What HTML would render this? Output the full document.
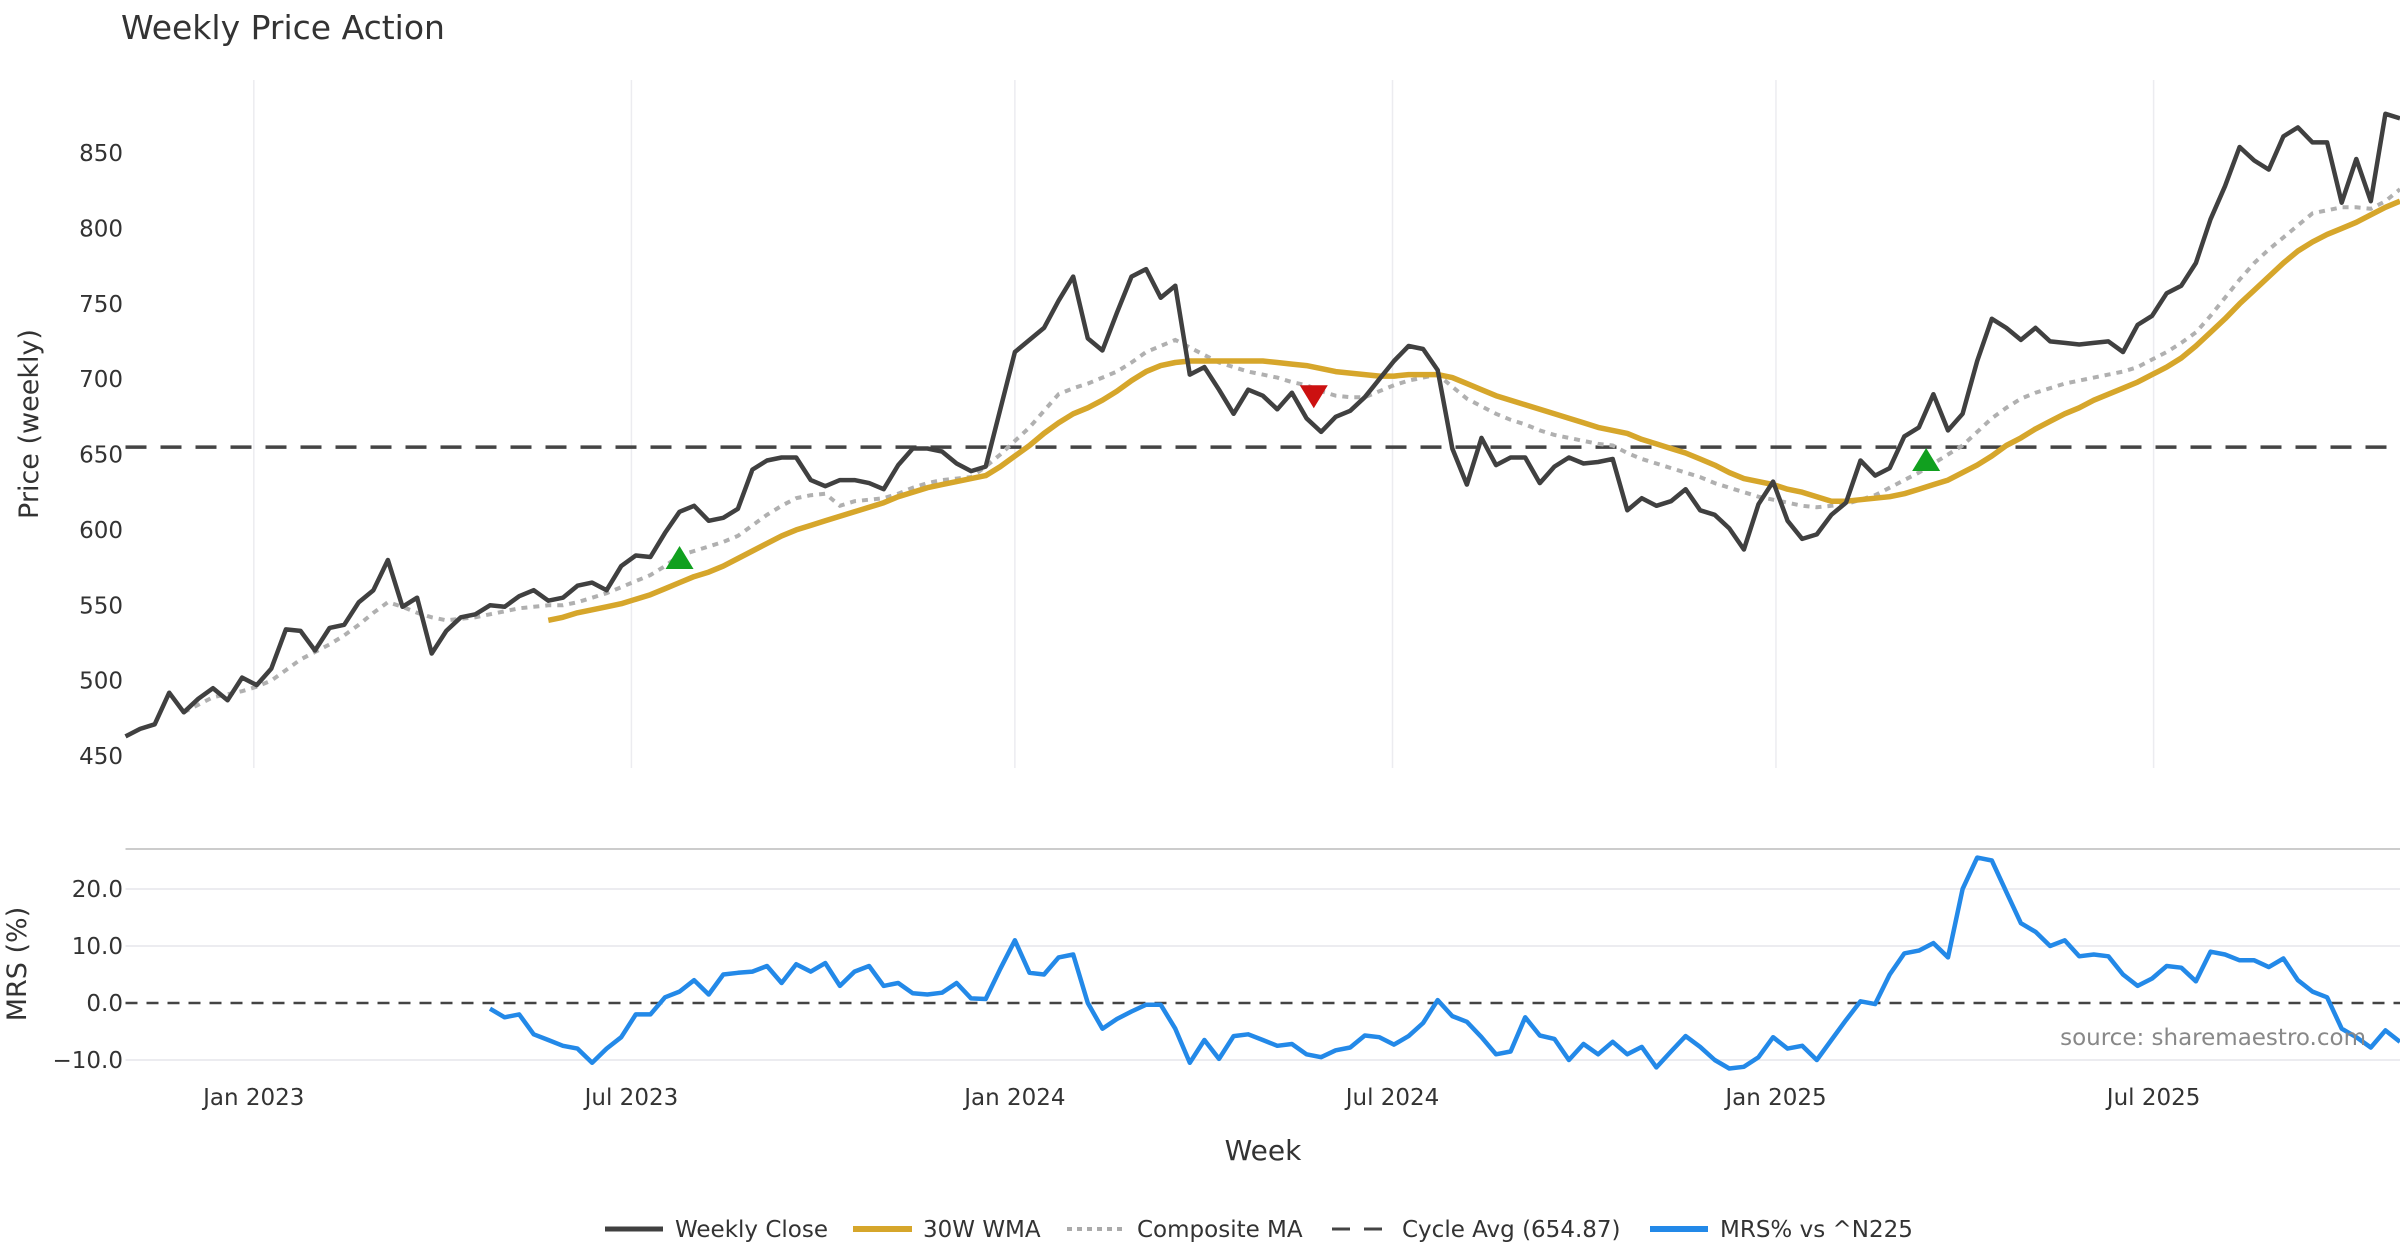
<!DOCTYPE html>
<html><head><meta charset="utf-8"><title>Weekly Price Action</title>
<style>
html,body{margin:0;padding:0;background:#fff;}
svg{display:block;font-family:"DejaVu Sans","Liberation Sans",sans-serif;}
</style></head>
<body>
<svg id="chart" width="2400" height="1260" viewBox="0 0 2400 1260" xmlns="http://www.w3.org/2000/svg">
<text x="121" y="39" font-size="33" fill="#333">Weekly Price Action</text>
<g id="grid"></g><g id="series"></g><g id="axes"></g>
<text transform="translate(38,424) rotate(-90)" text-anchor="middle" font-size="27" fill="#333">Price (weekly)</text>
<text transform="translate(26,964) rotate(-90)" text-anchor="middle" font-size="27" fill="#333">MRS (%)</text>
<text x="1263" y="1160" text-anchor="middle" font-size="28" fill="#333">Week</text>
<text x="2366" y="1045" text-anchor="end" font-size="23" fill="#888">source: sharemaestro.com</text>
<g font-size="23" fill="#333">
 <g><line x1="605" y1="1229" x2="663" y2="1229" stroke="#404040" stroke-width="5"/><text x="675" y="1237">Weekly Close</text></g>
 <g><line x1="853" y1="1229" x2="912" y2="1229" stroke="#d6a62b" stroke-width="6"/><text x="923" y="1237">30W WMA</text></g>
 <g><line x1="1067" y1="1229" x2="1125" y2="1229" stroke="#aaa" stroke-width="4" stroke-dasharray="5,5"/><text x="1137" y="1237">Composite MA</text></g>
 <g><line x1="1332" y1="1229" x2="1390" y2="1229" stroke="#444" stroke-width="3" stroke-dasharray="18,14"/><text x="1402" y="1237">Cycle Avg (654.87)</text></g>
 <g><line x1="1650" y1="1229" x2="1708" y2="1229" stroke="#2389e8" stroke-width="6"/><text x="1720" y="1237">MRS% vs ^N225</text></g>
</g>
</svg>
<script>
const close=[463,468,471,492,479,488,495,487,502,497,508,534,533,520,535,537,552,560,580,549,555,518,533,542,544,550,549,556,560,553,555,563,565,560,576,583,582,598,612,616,606,608,614,640,646,648,648,633,629,633,633,631,627,643,654,654,652,644,639,642,680,718,726,734,752,768,727,719,744,768,773,754,762,703,708,693,677,693,689,680,691,674,665,675,679,688,700,712,722,720,706,654,630,661,643,648,648,631,642,648,644,645,647,613,621,616,619,627,613,610,601,587,617,632,606,594,597,610,618,646,636,641,662,668,690,666,677,712,740,734,726,734,725,724,723,724,725,718,736,742,757,762,777,806,828,854,845,839,861,867,857,857,817,846,818,876,873];
const wmaStart=29;
const wma=[540,542,545,547,549,551,554,557,561,565,569,572,576,581,586,591,596,600,603,606,609,612,615,618,622,625,628,630,632,634,636,642,649,656,664,671,677,681,686,692,699,705,709,711,712,712,712,712,712,712,711,710,709,707,705,704,703,702,702,703,703,703,701,697,693,689,686,683,680,677,674,671,668,666,664,660,657,654,651,647,643,638,634,632,630,627,625,622,619,619,620,621,622,624,627,630,633,638,643,649,656,661,667,672,677,681,686,690,694,698,703,708,714,722,731,740,750,759,768,777,785,791,796,800,804,809,814,818];
const compStart=4;
const comp=[479,484,489,491,493,496,500,507,514,519,524,530,537,545,552,549,545,542,540,541,542,544,546,548,549,550,550,552,555,558,562,566,570,576,583,586,589,592,596,603,610,616,621,623,624,616,619,620,621,624,628,631,633,634,635,642,650,659,668,679,690,694,697,701,705,711,718,722,726,721,716,711,708,705,703,701,698,696,692,689,688,688,692,696,699,701,703,695,687,682,677,673,670,666,663,661,659,657,656,651,647,644,641,638,635,631,628,625,622,620,618,616,615,616,617,620,623,628,633,638,644,650,656,665,674,681,687,691,694,697,699,701,703,705,708,713,718,724,731,742,754,766,777,786,794,802,810,812,814,814,813,818,826];
const mrsStart=25;
const mrs=[-1,-2.5,-2,-5.5,-6.5,-7.5,-8,-10.5,-8,-6,-2,-2,1,2,4,1.5,5,5.3,5.5,6.5,3.5,6.8,5.5,7,3,5.5,6.5,3,3.5,1.7,1.5,1.8,3.5,0.8,0.7,6,11,5.3,5,8,8.5,0,-4.5,-2.8,-1.5,-0.3,-0.3,-4.5,-10.5,-6.5,-9.8,-5.8,-5.5,-6.5,-7.5,-7.2,-9,-9.5,-8.3,-7.8,-5.7,-6,-7.3,-5.8,-3.5,0.5,-2.3,-3.3,-6,-9,-8.5,-2.5,-5.7,-6.3,-10,-7.2,-9,-6.8,-9,-7.7,-11.3,-8.5,-5.8,-7.7,-10,-11.5,-11.2,-9.5,-6,-8,-7.5,-10,-6.5,-3,0.3,-0.2,5,8.7,9.2,10.5,8,20,25.5,25,19.5,14,12.5,10,11,8.2,8.5,8.2,5,3,4.3,6.5,6.2,3.8,9,8.5,7.5,7.5,6.3,7.8,4,2,1,-4.5,-6,-7.8,-4.8,-6.8];
const buyIdx=[38,123.5];
const buyVal=[580,645];
const sellIdx=[81.5];
const sellVal=[690];
const cycleAvg=654.87;
const xTickIdx=[8.8,34.7,61.0,86.9,113.2,139.1];
const xTickLabels=["Jan 2023","Jul 2023","Jan 2024","Jul 2024","Jan 2025","Jul 2025"];
const priceTicks=[450,500,550,600,650,700,750,800,850];
const mrsTicks=[-10,0,10,20];

const NS="http://www.w3.org/2000/svg";
const X0=125.5, X1=2400;
const n=close.length;
function xs(i){return X0+(X1-X0)*i/(n-1);}
function yp(v){return 153+(850-v)*603/400;}
function ym(v){return 1003-v*5.7;}
function mk(tag,attrs,parent){const e=document.createElementNS(NS,tag);for(const k in attrs)e.setAttribute(k,attrs[k]);parent.appendChild(e);return e;}
const grid=document.getElementById('grid'),ser=document.getElementById('series'),ax=document.getElementById('axes');

xTickIdx.forEach((t,k)=>{
  const x=xs(t);
  const g1=mk('line',{x1:x,x2:x,y1:80,y2:768,stroke:'#ececf0','stroke-width':1.5},grid);
  
  
  const lb=mk('text',{x:x,y:1105,'text-anchor':'middle','font-size':23,fill:'#333'},ax);
  lb.textContent=xTickLabels[k];
  
  
});
priceTicks.forEach(v=>{
  const t=mk('text',{x:123,y:yp(v)+8,'text-anchor':'end','font-size':23,fill:'#333'},ax);
  t.textContent=v;
  
  
});
const sep=mk('line',{x1:125.5,x2:2400,y1:849,y2:849,stroke:'#ccc','stroke-width':2},grid);


mrsTicks.forEach(v=>{
  if(v!==0){
    const gl=mk('line',{x1:125.5,x2:2400,y1:ym(v),y2:ym(v),stroke:'#ececf0','stroke-width':2},grid);
    
    
  }
  const t=mk('text',{x:123,y:ym(v)+8,'text-anchor':'end','font-size':23,fill:'#333'},ax);
  t.textContent=(v<0?'\u2212':'')+Math.abs(v).toFixed(1);
  
  
});
function pathOf(arr,start,yf){return arr.map((v,i)=>(i?'L':'M')+xs(start+i).toFixed(1)+','+yf(v).toFixed(1)).join(' ');}

const cyc=mk('line',{x1:125.5,x2:2400,y1:yp(cycleAvg),y2:yp(cycleAvg),stroke:'#444','stroke-width':3.5,'stroke-dasharray':'21,14'},ser);


const comps=mk('path',{d:pathOf(comp,compStart,yp),fill:'none',stroke:'#b0b0b0','stroke-width':4,'stroke-dasharray':'6,6'},ser);


const wm=mk('path',{d:pathOf(wma,wmaStart,yp),fill:'none',stroke:'#d6a62b','stroke-width':5.5,'stroke-linejoin':'round'},ser);


const cl=mk('path',{d:pathOf(close,0,yp),fill:'none',stroke:'#404040','stroke-width':4.5,'stroke-linejoin':'round'},ser);


buyIdx.forEach((b,k)=>{
  const x=xs(b),y=yp(buyVal[k]);
  const tr=mk('polygon',{points:`${x-14},${y+9} ${x+14},${y+9} ${x},${y-14}`,fill:'#11a01f'},ser);
  
  
});
sellIdx.forEach((b,k)=>{
  const x=xs(b),y=yp(sellVal[k]);
  const tr=mk('polygon',{points:`${x-14},${y-9} ${x+14},${y-9} ${x},${y+14}`,fill:'#cc1111'},ser);
  
  
});
const z=mk('line',{x1:125.5,x2:2400,y1:ym(0),y2:ym(0),stroke:'#444','stroke-width':2.5,'stroke-dasharray':'12,9'},ser);


const ml=mk('path',{d:pathOf(mrs,mrsStart,ym),fill:'none',stroke:'#2389e8','stroke-width':4.5,'stroke-linejoin':'round'},ser);


</script>
</body></html>
